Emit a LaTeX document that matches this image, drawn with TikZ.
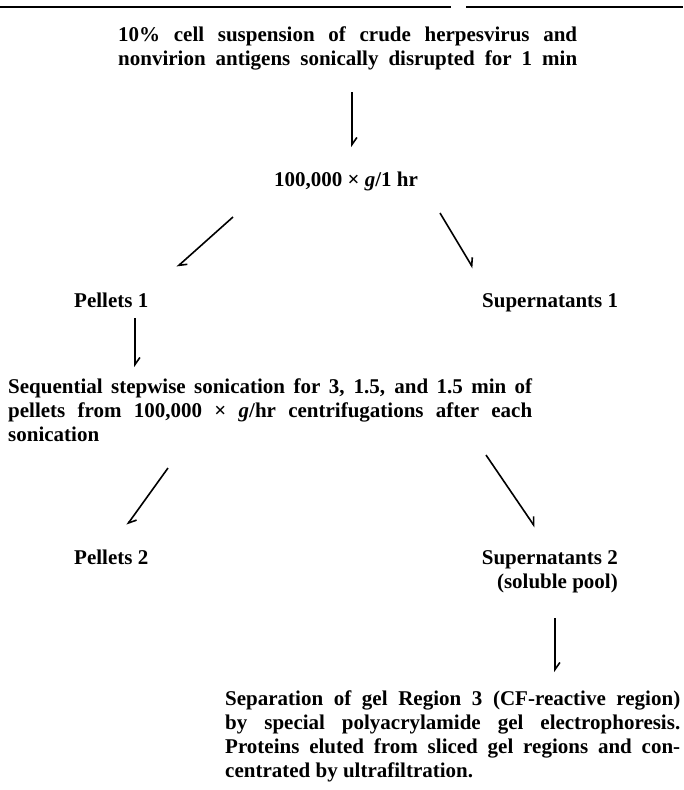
\documentclass[tikz,border=0pt]{standalone}
\usepackage{fontspec}
\setmainfont{Liberation Serif}
\usetikzlibrary{arrows.meta}
\begin{document}
\begin{tikzpicture}[x=1pt,y=-1pt,
  txt/.style={inner sep=0pt, font=\fontsize{21}{24}\selectfont\bfseries},
  arr/.style={line width=1.6pt, -{Straight Barb[left,length=7pt,angle'=70]}},
  toprule/.style={line width=2.2pt}]
\useasboundingbox (0,0) rectangle (683,790);
% top rule
\draw[toprule] (0,7) -- (451,7);
\draw[toprule] (466,7) -- (683,7);
% text blocks
\node[txt, anchor=base west] (title) at (118,41)
  {\parbox[t]{459pt}{\makebox[459pt][s]{10\% cell suspension of crude herpesvirus and}\\
   \makebox[459pt][s]{nonvirion antigens sonically disrupted for 1 min}}};
\node[txt, anchor=base] (hk) at (346,186) {100,000 × \textit{g}/1 hr};
\node[txt, anchor=base west] (p1) at (74,307) {Pellets 1};
\node[txt, anchor=base west] (s1) at (482,307) {Supernatants 1};
\node[txt, anchor=base west] (seq) at (8,393)
  {\parbox[t]{524pt}{\makebox[524pt][s]{Sequential stepwise sonication for 3, 1.5, and 1.5 min of}\\
   \makebox[524pt][s]{pellets from 100,000 × \textit{g}/hr centrifugations after each}\\
   sonication}};
\node[txt, anchor=base west] (p2) at (74,564) {Pellets 2};
\node[txt, anchor=base east] (s2) at (618,564)
  {\parbox[t]{150pt}{\raggedleft Supernatants 2\\(soluble pool)}};
\node[txt, anchor=base west] (sep) at (225,705)
  {\parbox[t]{455pt}{\makebox[455pt][s]{Separation of gel Region 3 (CF-reactive region)}\\
   \makebox[455pt][s]{by special polyacrylamide gel electrophoresis.}\\
   \makebox[455pt][s]{Proteins eluted from sliced gel regions and con-}\\
   centrated by ultrafiltration.}};
% arrow end points (free ends)
\coordinate (a1s) at (352,92);  \coordinate (a1e) at (352,147);
\coordinate (a2s) at (233,217); \coordinate (a2e) at (177,267);
\coordinate (a3s) at (440,213); \coordinate (a3e) at (473,268);
\coordinate (a4s) at (135,318); \coordinate (a4e) at (135,367);
\coordinate (a5s) at (168,468); \coordinate (a5e) at (127,525);
\coordinate (a6s) at (486,455); \coordinate (a6e) at (535,527);
\coordinate (a7s) at (555,618); \coordinate (a7e) at (555,672);
\draw[arr] (a1s) -- (a1e);
\draw[arr] (a2s) -- (a2e);
\draw[arr] (a3s) -- (a3e);
\draw[arr] (a4s) -- (a4e);
\draw[arr] (a5s) -- (a5e);
\draw[arr] (a6s) -- (a6e);
\draw[arr] (a7s) -- (a7e);
\end{tikzpicture}
\end{document}
